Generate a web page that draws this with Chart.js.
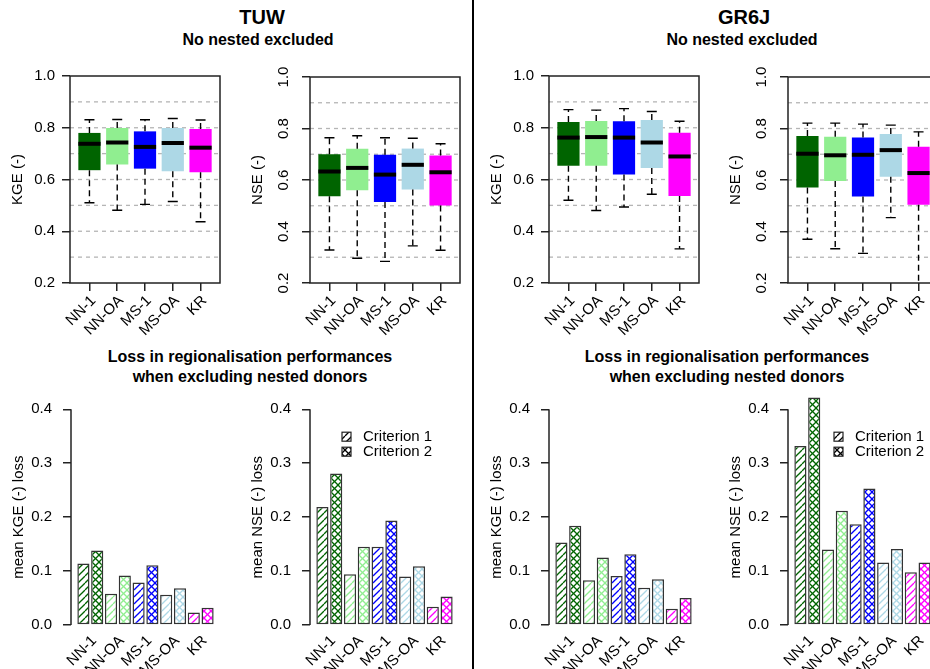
<!DOCTYPE html>
<html>
<head>
<meta charset="utf-8">
<script src="https://cdn.jsdelivr.net/npm/chart.js@4.4.0/dist/chart.umd.min.js"></script>
<style>
html, body { margin: 0; padding: 0; background: #fff; overflow: hidden; }
#page { position: relative; width: 930px; height: 669px; overflow: hidden; }
#page canvas { position: absolute; }
.t { position: absolute; font-family: 'Liberation Sans', Arial, sans-serif; font-weight: bold; color: #000;
     white-space: nowrap; line-height: 1; transform: translate(-50%, -50%); }
.vline { position: absolute; left: 472px; top: 0; width: 1.5px; height: 669px; background: #000; }
</style>
</head>
<body>
<div id="page">
  <div class="t" style="left:262px;top:17px;font-size:20px">TUW</div>
  <div class="t" style="left:258px;top:40px;font-size:16px">No nested excluded</div>
  <div class="t" style="left:744px;top:17px;font-size:20px">GR6J</div>
  <div class="t" style="left:742px;top:40px;font-size:16px">No nested excluded</div>
  <div class="t" style="left:250px;top:357px;font-size:16px">Loss in regionalisation performances</div>
  <div class="t" style="left:250px;top:377px;font-size:16px">when excluding nested donors</div>
  <div class="t" style="left:727px;top:357px;font-size:16px">Loss in regionalisation performances</div>
  <div class="t" style="left:727px;top:377px;font-size:16px">when excluding nested donors</div>
  <div class="vline"></div>

  <canvas id="tuwKgeBox" width="226" height="300" style="left:0px;top:60px"></canvas>
  <canvas id="tuwNseBox" width="226" height="300" style="left:240px;top:60px"></canvas>
  <canvas id="gr6jKgeBox" width="226" height="300" style="left:479px;top:60px"></canvas>
  <canvas id="gr6jNseBox" width="226" height="300" style="left:718px;top:60px"></canvas>

  <canvas id="tuwKgeBar" width="225" height="300" style="left:1px;top:380px"></canvas>
  <canvas id="tuwNseBar" width="225" height="300" style="left:240px;top:380px"></canvas>
  <canvas id="gr6jKgeBar" width="225" height="300" style="left:479px;top:380px"></canvas>
  <canvas id="gr6jNseBar" width="225" height="300" style="left:718px;top:380px"></canvas>
</div>

<script>
// categories and colours
const methods = ['NN-1', 'NN-OA', 'MS-1', 'MS-OA', 'KR'];
const methodColors = ['#006400', '#90EE90', '#0000FF', '#ADD8E6', '#FF00FF'];
const criteria = ['Criterion 1', 'Criterion 2'];

// boxplot stats per method: [lower whisker, q1, median, q3, upper whisker]
const tuwKge = [
  [0.510, 0.636, 0.738, 0.780, 0.831],
  [0.481, 0.658, 0.743, 0.799, 0.832],
  [0.504, 0.642, 0.726, 0.786, 0.831],
  [0.515, 0.632, 0.741, 0.799, 0.836],
  [0.437, 0.628, 0.723, 0.795, 0.830]
];
const tuwNse = [
  [0.328, 0.537, 0.633, 0.700, 0.764],
  [0.296, 0.560, 0.647, 0.721, 0.772],
  [0.284, 0.515, 0.621, 0.698, 0.764],
  [0.344, 0.563, 0.659, 0.722, 0.762],
  [0.327, 0.501, 0.630, 0.695, 0.741]
];
const gr6jKge = [
  [0.520, 0.653, 0.762, 0.822, 0.870],
  [0.480, 0.653, 0.764, 0.826, 0.868],
  [0.494, 0.619, 0.762, 0.825, 0.874],
  [0.543, 0.644, 0.743, 0.830, 0.863],
  [0.332, 0.536, 0.689, 0.781, 0.825]
];
const gr6jNse = [
  [0.370, 0.571, 0.702, 0.771, 0.821],
  [0.333, 0.596, 0.696, 0.768, 0.821],
  [0.315, 0.536, 0.698, 0.765, 0.817],
  [0.454, 0.613, 0.716, 0.779, 0.813],
  [0.150, 0.504, 0.627, 0.729, 0.787]
];

// mean loss when excluding nested donors (criterion 1 / criterion 2)
const tuwKgeLoss1 = [0.114, 0.058, 0.079, 0.056, 0.023];
const tuwKgeLoss2 = [0.138, 0.092, 0.111, 0.068, 0.032];
const tuwNseLoss1 = [0.219, 0.094, 0.145, 0.090, 0.034];
const tuwNseLoss2 = [0.281, 0.145, 0.194, 0.109, 0.053];
const gr6jKgeLoss1 = [0.153, 0.083, 0.091, 0.069, 0.030];
const gr6jKgeLoss2 = [0.184, 0.125, 0.131, 0.085, 0.050];
const gr6jNseLoss1 = [0.332, 0.140, 0.187, 0.116, 0.098];
const gr6jNseLoss2 = [0.422, 0.212, 0.253, 0.141, 0.116];

// axis ticks and reference lines
const boxTicks = [0.2, 0.4, 0.6, 0.8, 1.0];
const boxGrid = [0.3, 0.4, 0.5, 0.6, 0.7, 0.8, 0.9];
const lossTicks = [0, 0.1, 0.2, 0.3, 0.4];

const FONT = "'Liberation Sans', Arial, sans-serif";
Chart.defaults.font.family = FONT;
Chart.defaults.font.size = 15;
Chart.defaults.color = '#000';

function hatch(color, cross) {
  const s = 7;
  const c = document.createElement('canvas');
  c.width = s; c.height = s;
  const g = c.getContext('2d');
  g.fillStyle = '#fff';
  g.fillRect(0, 0, s, s);
  g.strokeStyle = color;
  g.lineWidth = 1.3;
  const seg = (x0, y0, x1, y1) => { g.beginPath(); g.moveTo(x0, y0); g.lineTo(x1, y1); g.stroke(); };
  for (const o of [-s, 0, s]) seg(o, s, o + s, 0);
  if (cross) for (const o of [-s, 0, s]) seg(o, 0, o + s, s);
  return g.createPattern(c, 'repeat');
}

// R-like extras: dashed grid, whiskers, medians, frame, axis line, legend
const rStyle = {
  id: 'rStyle',
  beforeDatasetsDraw(chart, args, opts) {
    const {ctx, chartArea: a, scales: {y}} = chart;
    if (!opts.grid) return;
    ctx.save();
    ctx.strokeStyle = '#b5b5b5';
    ctx.lineWidth = 1.3;
    ctx.setLineDash([4, 4]);
    opts.grid.forEach(v => {
      const py = y.getPixelForValue(v);
      ctx.beginPath(); ctx.moveTo(a.left, py); ctx.lineTo(a.right, py); ctx.stroke();
    });
    ctx.restore();
  },
  afterDatasetsDraw(chart, args, opts) {
    const {ctx, chartArea: a, scales: {x, y}} = chart;
    ctx.save();
    if (opts.boxes) {
      ctx.save();
      ctx.beginPath(); ctx.rect(a.left, a.top, a.right - a.left, a.bottom - a.top); ctx.clip();
      const half = (x.getPixelForValue(1.4) - x.getPixelForValue(1)) ;
      const cap = (x.getPixelForValue(1.18) - x.getPixelForValue(1));
      opts.boxes.forEach((s, i) => {
        const px = x.getPixelForValue(i + 1);
        ctx.strokeStyle = '#000';
        ctx.lineWidth = 1.4;
        ctx.setLineDash([6, 4]);
        ctx.beginPath();
        ctx.moveTo(px, y.getPixelForValue(s[3])); ctx.lineTo(px, y.getPixelForValue(s[4]));
        ctx.moveTo(px, y.getPixelForValue(s[1])); ctx.lineTo(px, y.getPixelForValue(s[0]));
        ctx.stroke();
        ctx.setLineDash([]);
        ctx.beginPath();
        ctx.moveTo(px - cap, y.getPixelForValue(s[4])); ctx.lineTo(px + cap, y.getPixelForValue(s[4]));
        ctx.moveTo(px - cap, y.getPixelForValue(s[0])); ctx.lineTo(px + cap, y.getPixelForValue(s[0]));
        ctx.stroke();
        ctx.lineWidth = 4;
        ctx.beginPath();
        ctx.moveTo(px - half, y.getPixelForValue(s[2])); ctx.lineTo(px + half, y.getPixelForValue(s[2]));
        ctx.stroke();
      });
      ctx.restore();
    }
    ctx.strokeStyle = '#222';
    ctx.lineWidth = 1.5;
    if (opts.frame) ctx.strokeRect(a.left, a.top, a.right - a.left, a.bottom - a.top);
    if (opts.axisLine) {
      ctx.beginPath();
      ctx.moveTo(a.left, y.getPixelForValue(opts.axisLine[0]));
      ctx.lineTo(a.left, y.getPixelForValue(opts.axisLine[1]));
      ctx.stroke();
    }
    if (opts.legend) {
      ctx.font = '15px ' + FONT;
      ctx.textBaseline = 'middle';
      chart.data.datasets.forEach((ds, i) => {
        const sx = a.left + opts.legend.left;
        const sy = a.top + opts.legend.top + i * 15;
        ctx.fillStyle = hatch('#000', i === 1);
        ctx.fillRect(sx, sy - 4.5, 9, 9);
        ctx.lineWidth = 1.2;
        ctx.strokeRect(sx, sy - 4.5, 9, 9);
        ctx.fillStyle = '#000';
        ctx.fillText(ds.label, sx + 21, sy);
      });
    }
    ctx.restore();
  }
};

function methodAxis(tickLen, pad, height) {
  return {
    type: 'linear', min: 0.3, max: 5.7, offset: false,
    afterBuildTicks: s => { s.ticks = methods.map((m, i) => ({value: i + 1})); },
    afterFit: s => { s.height = height; },
    grid: {display: true, drawOnChartArea: false, drawTicks: tickLen > 0, tickLength: tickLen,
           color: '#222', lineWidth: 1.5, offset: false},
    border: {display: false},
    ticks: {autoSkip: false, minRotation: 45, maxRotation: 45, padding: pad, labelOffset: 4,
            callback: v => methods[v - 1]}
  };
}

function boxPanel(id, stats, yTitle, verticalTicks) {
  new Chart(document.getElementById(id), {
    type: 'bar',
    data: {
      datasets: [{
        data: stats.map((s, i) => ({x: i + 1, y: [s[1], s[3]]})),
        backgroundColor: methodColors,
        borderWidth: 0,
        categoryPercentage: 1,
        barPercentage: 0.8
      }]
    },
    options: {
      responsive: false, animation: false, devicePixelRatio: 1,
      layout: {padding: {top: 7, right: 6, left: 0, bottom: 0}},
      plugins: {legend: {display: false}, tooltip: {enabled: false},
                rStyle: {grid: boxGrid, boxes: stats, frame: true}},
      scales: {
        x: methodAxis(8, 1, 77),
        y: {
          type: 'linear', min: 0.2, max: 1.0, beginAtZero: false,
          afterBuildTicks: s => { s.ticks = boxTicks.map(v => ({value: v})); },
          afterFit: s => { s.width = 70; },
          grid: {display: true, drawOnChartArea: false, tickLength: 8, color: '#222', lineWidth: 1.5},
          border: {display: false},
          title: {display: true, text: yTitle, padding: {top: 8.5, bottom: 0}},
          ticks: verticalTicks
            ? {minRotation: 90, maxRotation: 90, crossAlign: 'center', padding: 8, callback: v => v.toFixed(1)}
            : {padding: 7, callback: v => v.toFixed(1)}
        }
      }
    },
    plugins: [rStyle]
  });
}

function lossPanel(id, loss1, loss2, yTitle, legend) {
  new Chart(document.getElementById(id), {
    type: 'bar',
    data: {
      datasets: [loss1, loss2].map((vals, k) => ({
        label: criteria[k],
        data: vals.map((v, i) => ({x: i + 1, y: v})),
        backgroundColor: methodColors.map(c => hatch(c, k === 1)),
        borderColor: '#333',
        borderWidth: 1.5,
        borderSkipped: false,
        categoryPercentage: 1,
        barPercentage: 0.88,
        clip: false
      }))
    },
    options: {
      responsive: false, animation: false, devicePixelRatio: 1,
      layout: {padding: {top: 20.7, right: 6, left: 0, bottom: 0}},
      plugins: {legend: {display: false}, tooltip: {enabled: false},
                rStyle: {axisLine: [0, 0.4], legend: legend}},
      scales: {
        x: methodAxis(0, -1.5, 46.4),
        y: {
          type: 'linear', min: -0.016, max: 0.416, beginAtZero: false,
          afterBuildTicks: s => { s.ticks = lossTicks.map(v => ({value: v})); },
          afterFit: s => { s.width = 70; },
          grid: {display: true, drawOnChartArea: false, tickLength: 8, color: '#222', lineWidth: 1.5},
          border: {display: false},
          title: {display: true, text: yTitle, padding: {top: 8.5, bottom: 0}},
          ticks: {padding: 11, callback: v => v.toFixed(1)}
        }
      }
    },
    plugins: [rStyle]
  });
}

boxPanel('tuwKgeBox', tuwKge, 'KGE (-)', false);
boxPanel('tuwNseBox', tuwNse, 'NSE (-)', true);
boxPanel('gr6jKgeBox', gr6jKge, 'KGE (-)', false);
boxPanel('gr6jNseBox', gr6jNse, 'NSE (-)', true);

lossPanel('tuwKgeBar', tuwKgeLoss1, tuwKgeLoss2, 'mean KGE (-) loss', null);
lossPanel('tuwNseBar', tuwNseLoss1, tuwNseLoss2, 'mean NSE (-) loss', {left: 32, top: 36});
lossPanel('gr6jKgeBar', gr6jKgeLoss1, gr6jKgeLoss2, 'mean KGE (-) loss', null);
lossPanel('gr6jNseBar', gr6jNseLoss1, gr6jNseLoss2, 'mean NSE (-) loss', {left: 46, top: 36});
</script>
</body>
</html>
